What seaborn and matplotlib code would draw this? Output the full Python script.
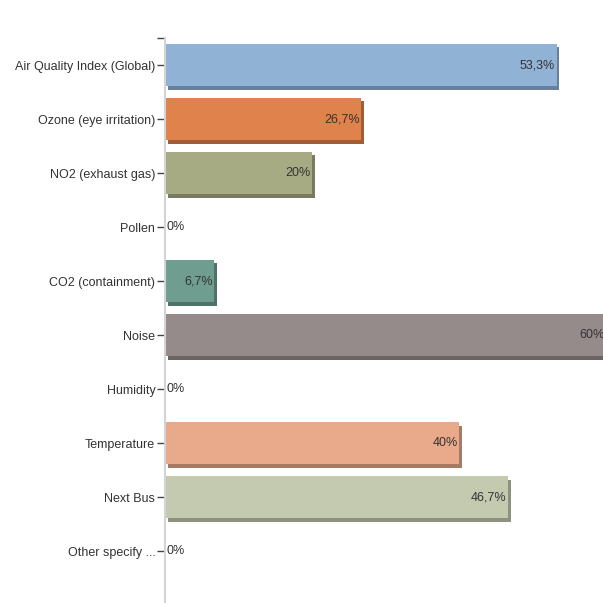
import matplotlib
matplotlib.use("Agg")
import matplotlib.pyplot as plt
import matplotlib.patheffects as pe
import pandas as pd
import seaborn as sns

# ── Data ────────────────────────────────────────────────────────────────
categories = [
    "Air Quality Index (Global)",
    "Ozone (eye irritation)",
    "NO2 (exhaust gas)",
    "Pollen",
    "CO2 (containment)",
    "Noise",
    "Humidity",
    "Temperature",
    "Next Bus",
    "Other specify ...",
]
percent = [53.3, 26.7, 20, 0, 6.7, 60, 0, 40, 46.7, 0]
value_labels = ["53,3%", "26,7%", "20%", "0%", "6,7%", "60%", "0%", "40%", "46,7%", "0%"]
bar_colors = [
    "#90b2d4", "#e0824b", "#a7ab84", "#c9b27a", "#6f9e90",
    "#958b8b", "#9ab0c8", "#e9aa8b", "#c4cab0", "#cccccc",
]

df = pd.DataFrame({"category": categories, "percent": percent})

sns.set_style("white")
plt.rcParams["font.family"] = ["Liberation Sans", "DejaVu Sans"]

fig = plt.figure(figsize=(6.03, 6.03), dpi=100)
ax = fig.add_axes([165 / 603, 0.0, 438 / 603, 1 - 38 / 603])

sns.barplot(
    data=df, x="percent", y="category", hue="category",
    palette=bar_colors, legend=False, width=0.78, saturation=1, ax=ax,
    order=categories, hue_order=categories, linewidth=0,
)

# darker bottom/right edge for the raised-bar look
for bar in ax.patches:
    bar.set_edgecolor("none")
    bar.set_path_effects([
        pe.SimplePatchShadow(offset=(2, -2.5), alpha=1, rho=0.72),
        pe.Normal(),
    ])

# value labels
for i, (v, lab) in enumerate(zip(percent, value_labels)):
    if v > 0:
        ax.text(v - 0.2, i, lab, ha="right", va="center", fontsize=9, color="#333333")
    else:
        ax.text(0.2, i, lab, ha="left", va="center", fontsize=9, color="#333333")

ax.set_xlim(0, 59.6)
ax.set_ylim(9.96, -0.5)
ax.set_yticks([-0.5] + list(range(len(categories))))
ax.set_yticklabels([""] + categories, fontsize=9, color="#333333")
ax.set_xticks([])
ax.set_xlabel("")
ax.set_ylabel("")
for side in ["top", "right", "bottom"]:
    ax.spines[side].set_visible(False)
ax.spines["left"].set_color("#d4d4d4")
ax.spines["left"].set_linewidth(1.5)
ax.tick_params(axis="y", length=6, width=1, color="#444444", pad=1, left=True)

fig.savefig("out.png", dpi=100)
